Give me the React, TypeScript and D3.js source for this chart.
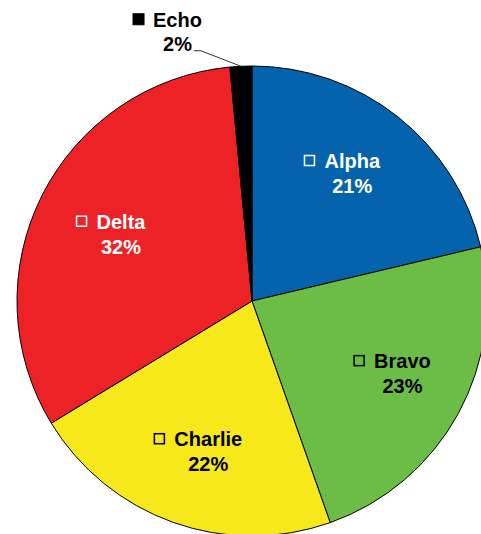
import React from "react";
import * as d3 from "d3";

const categories = ["Alpha", "Bravo", "Charlie", "Delta", "Echo"];
const values = [21.3, 23.3, 21.7, 32.2, 1.5];
const colors = ["#0563AE", "#6BBD45", "#F6E81A", "#ED2227", "#000000"];
const textColors = ["#FFFFFF", "#000000", "#000000", "#FFFFFF", "#000000"];
const outside = [false, false, false, false, true];
const nudgeX = [-9, 0, 0, 2, 0];
const nudgeY = [-2, -4, 0, 5, 0];

const W = 481;
const H = 534;
const CX = 252;
const CY = 301;
const R = 235;
const FONT = "Liberation Sans, Arial, Helvetica, sans-serif";
const FS = 20;
const LH = 25;

function textWidth(s: string): number {
  if (typeof document === "undefined") return s.length * FS * 0.6;
  const c = document.createElement("canvas").getContext("2d");
  if (!c) return s.length * FS * 0.6;
  c.font = `bold ${FS}px ${FONT}`;
  return c.measureText(s).width;
}

export default function App() {
  const data = categories.map((c, i) => ({ name: c, value: values[i], i }));
  const total = d3.sum(values);
  const pie = d3.pie<any>().value((d) => d.value).sort(null);
  const arcs = pie(data);
  const arc = d3.arc<any>().innerRadius(0).outerRadius(R);
  const labelArc = d3.arc<any>().innerRadius(160).outerRadius(160);
  const pct = (v: number) => `${Math.round((v / total) * 100)}%`;
  const MS = 10;
  const GAP = 10;

  return (
    <svg
      width={W}
      height={H}
      style={{ position: "absolute", left: 0, top: 0, display: "block" }}
    >
      <rect width={W} height={H} fill="#FFFFFF" />
      <g transform={`translate(${CX},${CY})`}>
        {arcs.map((a, k) => (
          <path key={k} d={arc(a) as string} fill={colors[a.data.i]} stroke="#000" strokeWidth={1} />
        ))}
      </g>
      {arcs.map((a, k) => {
        const i = a.data.i;
        const name = categories[i];
        const p = pct(values[i]);
        const tc = textColors[i];
        if (!outside[i]) {
          const [lx, ly] = labelArc.centroid(a);
          const x = CX + lx + (MS + GAP) / 2 + nudgeX[i];
          const y0 = CY + ly - 5.5 + nudgeY[i];
          const w1 = textWidth(name);
          const mx = x - w1 / 2 - GAP - MS;
          return (
            <g key={k}>
              <rect x={mx} y={y0 - 12.5} width={MS} height={MS} fill={colors[i]} stroke={tc} strokeWidth={1.5} />
              <text x={x} y={y0} textAnchor="middle" fontFamily={FONT} fontWeight="bold" fontSize={FS} fill={tc}>
                {name}
              </text>
              <text x={x} y={y0 + LH} textAnchor="middle" fontFamily={FONT} fontWeight="bold" fontSize={FS} fill={tc}>
                {p}
              </text>
            </g>
          );
        }
        const mid = (a.startAngle + a.endAngle) / 2;
        const px = CX + R * Math.sin(mid);
        const py = CY - R * Math.cos(mid);
        const ex = px - 40;
        const ey = py - 15.5;
        const hx = ex - 7;
        const w2 = textWidth(p);
        const x = hx - 2 - w2 / 2;
        const y1 = ey;
        const y0 = y1 - 24;
        const w1 = textWidth(name);
        const mx = x - w1 / 2 - GAP - MS;
        return (
          <g key={k}>
            <polyline points={`${px},${py} ${ex},${ey} ${hx},${ey}`} fill="none" stroke="#333" strokeWidth={1} />
            <rect x={mx} y={y0 - 13} width={MS + 1} height={MS + 1} fill={colors[i]} stroke={tc} strokeWidth={1} />
            <text x={x} y={y0} textAnchor="middle" fontFamily={FONT} fontWeight="bold" fontSize={FS} fill={tc}>
              {name}
            </text>
            <text x={x} y={y1} textAnchor="middle" fontFamily={FONT} fontWeight="bold" fontSize={FS} fill={tc}>
              {p}
            </text>
          </g>
        );
      })}
    </svg>
  );
}
